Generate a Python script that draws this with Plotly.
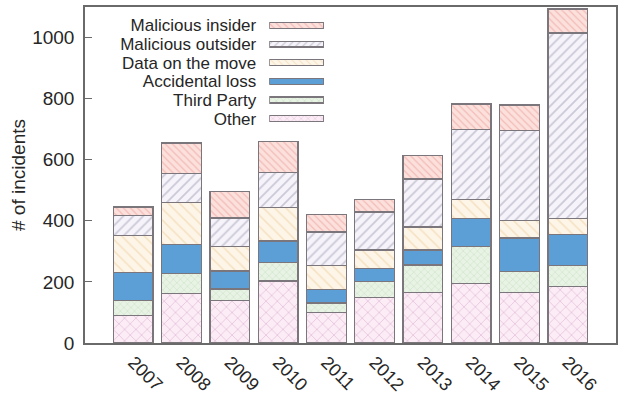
import plotly.graph_objects as go

years = ["2007", "2008", "2009", "2010", "2011", "2012", "2013", "2014", "2015", "2016"]

other = [90, 163, 139, 203, 100, 150, 166, 195, 165, 185]
third_party = [49, 65, 38, 60, 31, 51, 89, 120, 68, 68]
accidental_loss = [92, 95, 59, 71, 44, 43, 49, 92, 111, 102]
data_on_the_move = [122, 138, 79, 109, 78, 60, 76, 63, 58, 52]
malicious_outsider = [65, 95, 94, 116, 110, 125, 157, 230, 293, 608]
malicious_insider = [27, 99, 88, 101, 57, 40, 76, 82, 84, 78]

y_ticks = [0, 200, 400, 600, 800, 1000]

# name, values, background, hatch colour, hatch shape, hatch size, solidity
series = [
    ("Other", other, "#fbecf5", "#d29fc9", "x", 8, 0.2),
    ("Third Party", third_party, "#e8f3e5", "#afd1a6", "x", 5, 0.22),
    ("Accidental loss", accidental_loss, "#5b9fd6", None, "", 8, 0),
    ("Data on the move", data_on_the_move, "#fdf5e8", "#eecf9f", "\\", 8, 0.2),
    ("Malicious outsider", malicious_outsider, "#f6f4fa", "#a29eb3", "/", 7, 0.26),
    ("Malicious insider", malicious_insider, "#fbe0dc", "#ea9590", "\\", 5, 0.24),
]

OUTLINE = "#7a767c"
AXIS = "#6a6a6a"


def bar_marker(bg, fg, shape, size, solidity, lw=1.3):
    marker = dict(color=bg, line=dict(color=OUTLINE, width=lw))
    if fg:
        marker["pattern"] = dict(shape=shape, fgcolor=fg, fillmode="overlay",
                                 size=size, solidity=solidity)
    return marker


fig = go.Figure()

# stacked bars, one trace per incident type
for name, vals, bg, fg, shape, size, sol in series:
    fig.add_trace(go.Bar(
        name=name, x=years, y=vals, width=0.82,
        marker=bar_marker(bg, fg, shape, size, sol),
        showlegend=False,
    ))

# key: labels right-aligned with a flat swatch to their right
key_names = [s[0] for s in series]
key_length = [1] * len(series)
for (name, vals, bg, fg, shape, size, sol), length in zip(series, key_length):
    fig.add_trace(go.Bar(
        name=name, y=[name], x=[length], orientation="h", width=0.32,
        marker=bar_marker(bg, fg, shape, min(size, 5), sol, lw=1.1),
        xaxis="x2", yaxis="y2", showlegend=False, hoverinfo="skip",
    ))

axis_line = dict(showline=True, linecolor=AXIS, linewidth=1.5, mirror=True)

fig.update_layout(
    width=621,
    height=398,
    margin=dict(l=85, r=3, t=7, b=53),
    barmode="stack",
    paper_bgcolor="white",
    plot_bgcolor="white",
    font=dict(family="Liberation Sans, Arial, sans-serif", color="#262626"),
    showlegend=False,
    xaxis=dict(
        type="category",
        range=[-1, 10],
        tickangle=45,
        ticks="",
        tickfont=dict(size=18),
        showgrid=False,
        **axis_line,
    ),
    yaxis=dict(
        range=[0, 1100],
        tickvals=y_ticks,
        ticks="inside",
        ticklen=7,
        tickcolor=AXIS,
        tickfont=dict(size=19),
        ticklabelstandoff=5,
        showgrid=False,
        zeroline=False,
        title=dict(text="# of incidents", font=dict(size=19), standoff=2),
        **axis_line,
    ),
    xaxis2=dict(
        domain=[0.347, 0.450], anchor="y2", range=[0, 1],
        visible=False, fixedrange=True,
    ),
    yaxis2=dict(
        domain=[0.64, 0.973], anchor="x2", type="category",
        categoryorder="array", categoryarray=key_names,
        tickmode="array", tickvals=key_names, ticktext=key_names,
        range=[-0.5, len(key_names) - 0.5],
        showline=False, showgrid=False, zeroline=False, ticks="",
        tickfont=dict(size=17), ticklabelstandoff=12, fixedrange=True,
    ),
)

fig.write_html("out.html")
